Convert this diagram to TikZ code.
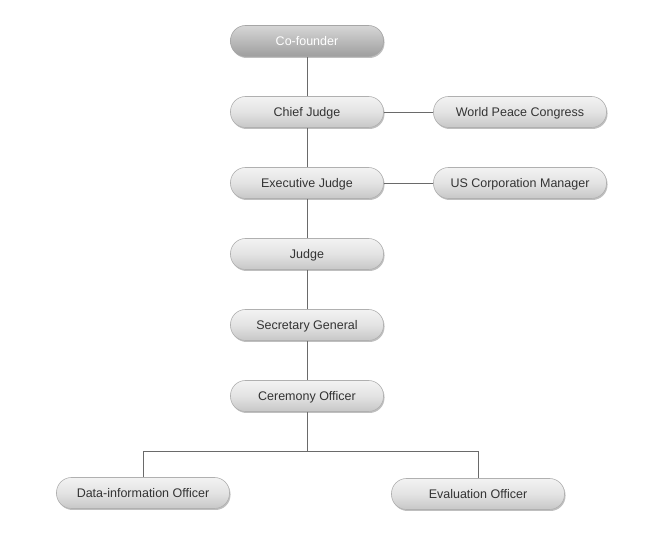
\documentclass[tikz,border=0pt]{standalone}
\usepackage{fontspec}
\setmainfont{Liberation Sans}
\usetikzlibrary{shadows}
\definecolor{linegray}{HTML}{6A6A6A}
\definecolor{boxborder}{HTML}{B0B0B0}
\definecolor{txtgray}{HTML}{333333}
\tikzset{
  pill/.style={draw=boxborder, line width=0.6pt, rounded corners=15pt,
    minimum width=153pt, minimum height=31pt, inner sep=0pt,
    text height=10pt, text depth=0pt,
    top color=black!5, bottom color=black!22, middle color=black!11,
    text=txtgray, font=\fontsize{12.5}{14}\selectfont,
    drop shadow={shadow xshift=1pt, shadow yshift=-1.5pt, opacity=0.25, fill=black}},
  widepill/.style={pill, minimum width=173pt},
  darkpill/.style={pill, draw=black!35, top color=black!16, middle color=black!25, bottom color=black!38, text=white},
  conn/.style={draw=linegray, line width=0.7pt}
}
\begin{document}
\begin{tikzpicture}[x=1pt,y=1pt]
\useasboundingbox (0,0) rectangle (657,551);
\node[darkpill] (cof) at (307,510) {Co-founder};
\node[pill] (chief) at (307,439) {Chief Judge};
\node[widepill] (wpc) at (520,439) {World Peace Congress};
\node[pill] (exec) at (307,368) {Executive Judge};
\node[widepill] (usc) at (520,368) {US Corporation Manager};
\node[pill] (judge) at (307,297) {Judge};
\node[pill] (sec) at (307,226) {Secretary General};
\node[pill] (cer) at (307,155) {Ceremony Officer};
\node[widepill] (data) at (143,58) {Data-information Officer};
\node[widepill] (eval) at (478,57) {Evaluation Officer};
\coordinate (split) at (307,100);
\draw[conn] (cof) -- (chief);
\draw[conn] (chief) -- (exec);
\draw[conn] (exec) -- (judge);
\draw[conn] (judge) -- (sec);
\draw[conn] (sec) -- (cer);
\draw[conn] (chief.east) -- (wpc.west);
\draw[conn] (exec.east) -- (usc.west);
\draw[conn] (cer.south) -- (split);
\draw[conn] (split) -| (data.north);
\draw[conn] (split) -| (eval.north);
\end{tikzpicture}
\end{document}
